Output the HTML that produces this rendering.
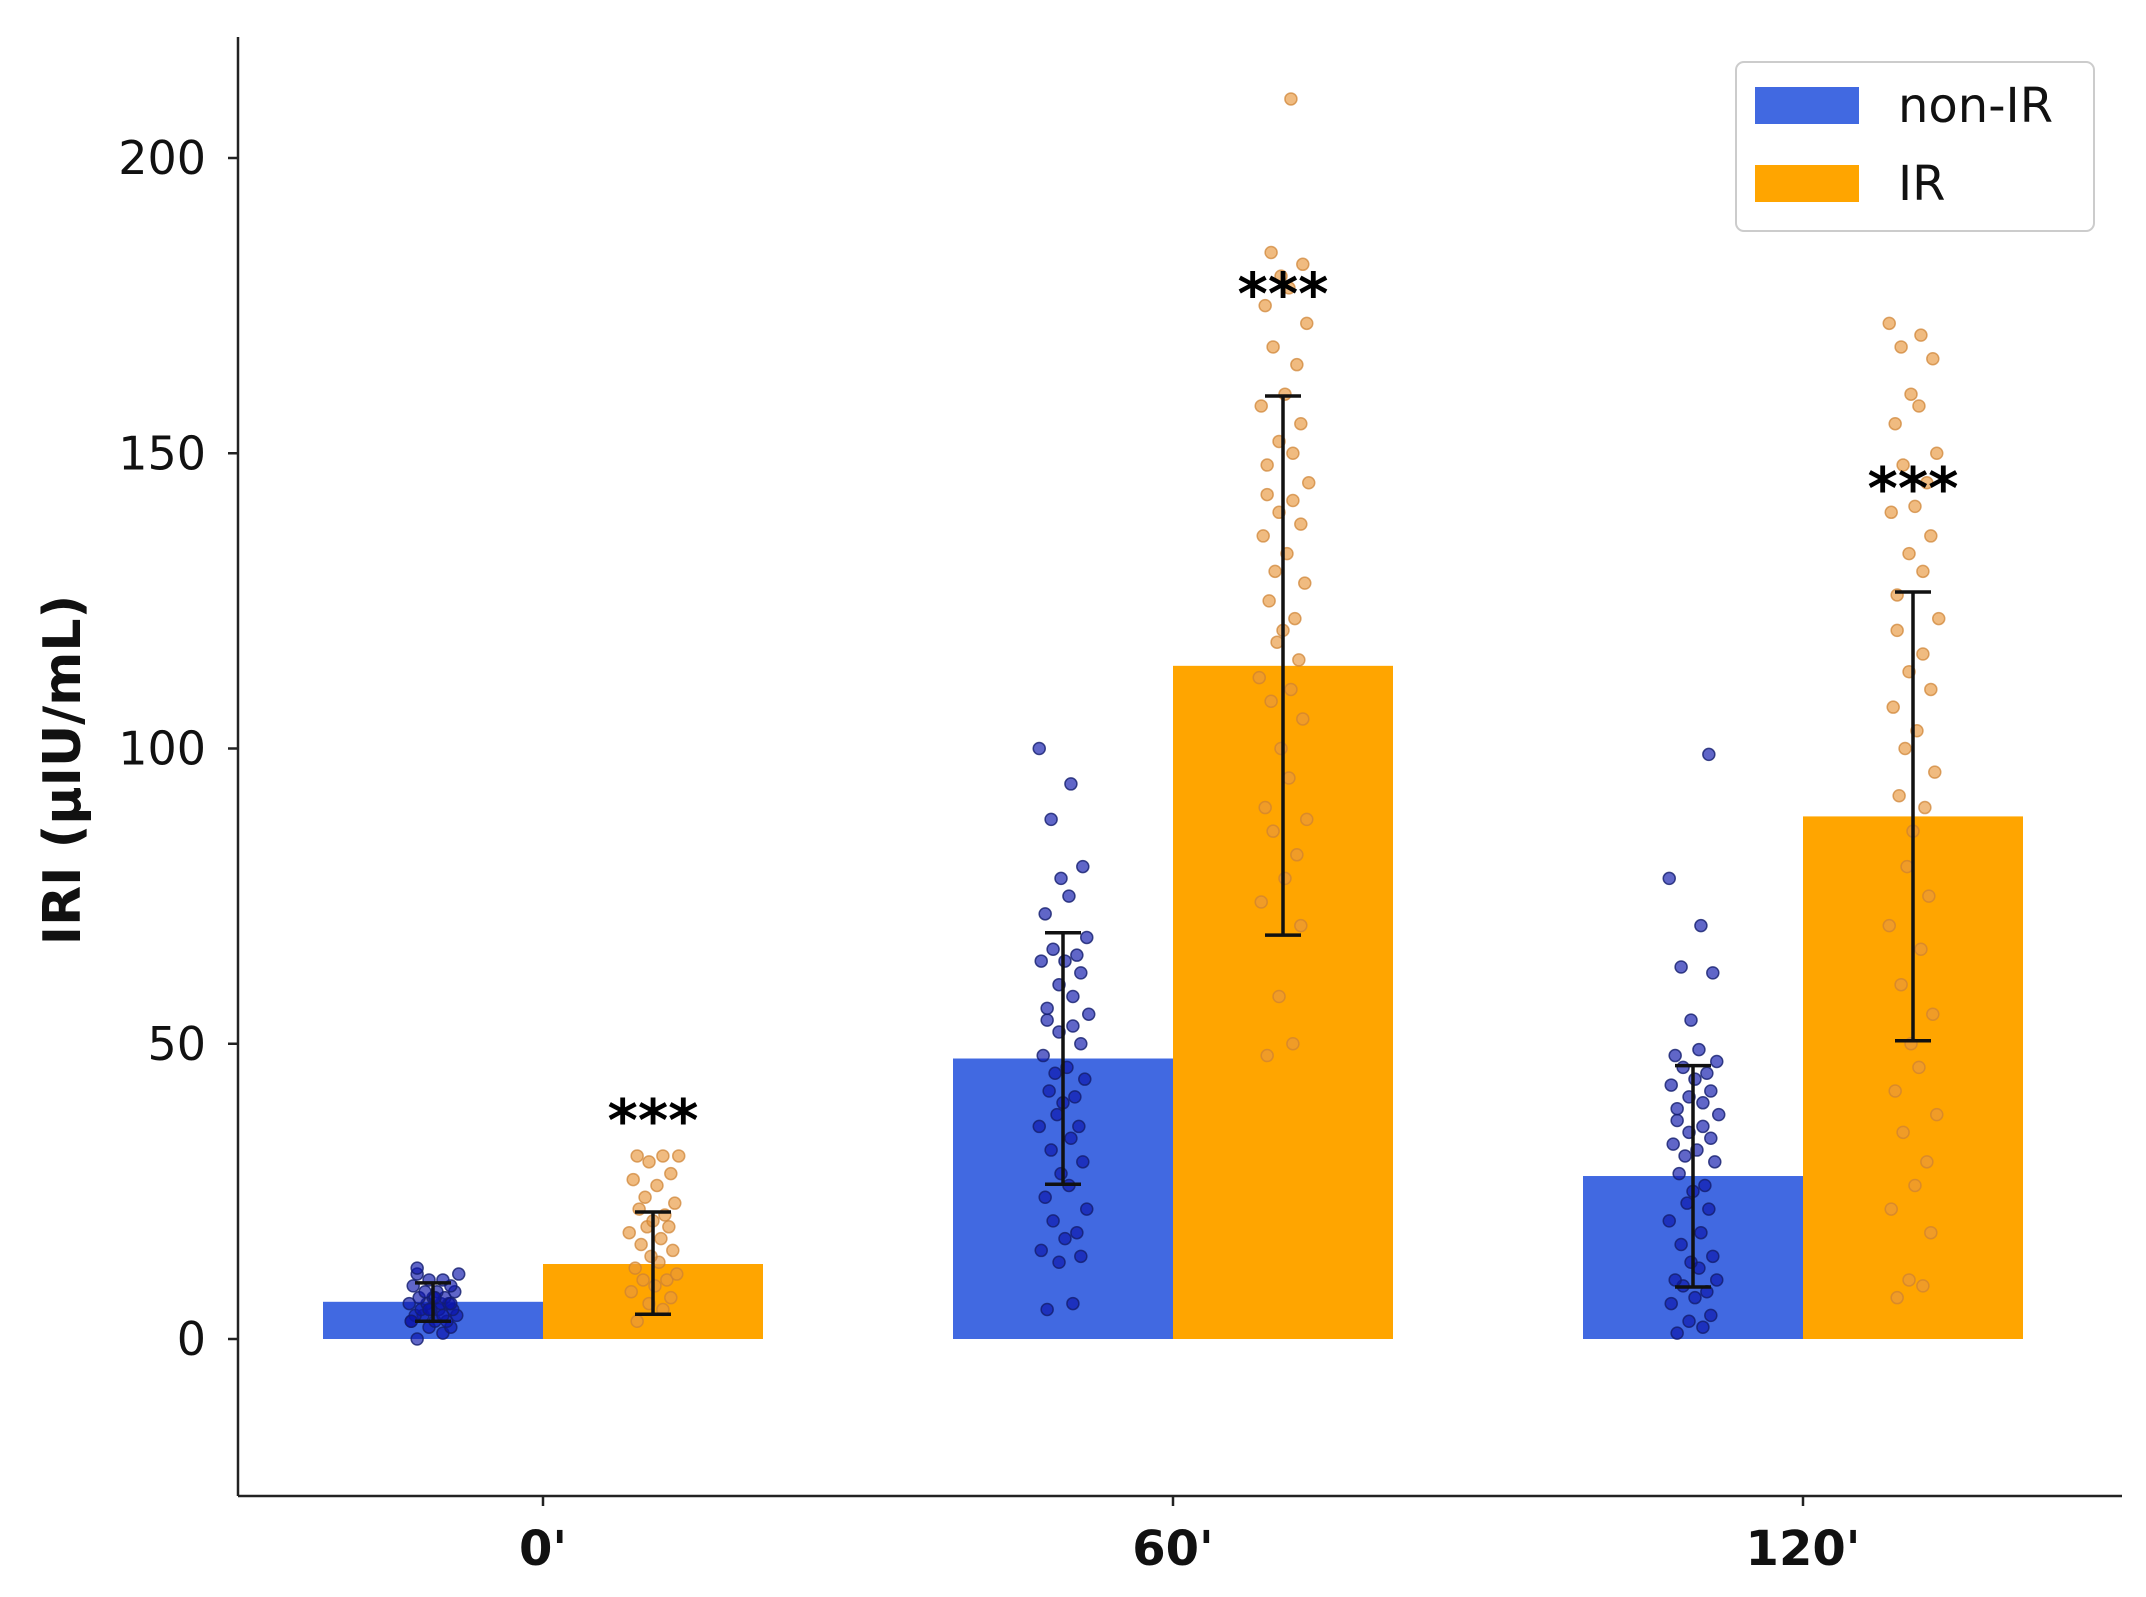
<!DOCTYPE html>
<html><head><meta charset="utf-8">
<style>
html,body{margin:0;padding:0;background:#fff;}
svg{display:block;}
text{font-family:"DejaVu Sans","Liberation Sans",sans-serif;}
</style></head>
<body>
<svg id="chart" width="2146" height="1597" viewBox="0 0 2146 1597" xmlns="http://www.w3.org/2000/svg">
<g id="grid"></g>
</svg>
<script>
const categories = ["0'", "60'", "120'"];
const seriesNames = ["non-IR", "IR"];
const meanNonIR = [6.3, 47.5, 27.6];
const meanIR = [12.7, 114, 88.5];
const errLowNonIR = [3, 26.2, 8.8];
const errHighNonIR = [9.5, 68.8, 46.3];
const errLowIR = [4.2, 68.4, 50.5];
const errHighIR = [21.5, 159.7, 126.5];
const yTicks = [0, 50, 100, 150, 200];
const sigLabels = ["***", "***", "***"];
const sigValues = [37, 177, 144];
const ptsNonIR = [
 [0,1,2,2,3,3,3,4,4,4,5,5,5,5,6,6,6,6,7,7,7,8,8,8,9,9,10,10,11,11,12,4,5,6,3,7],
 [5,6,13,14,15,17,18,20,22,24,26,28,30,32,34,36,36,38,40,41,42,44,45,46,48,50,52,53,54,55,56,58,60,62,64,64,65,66,68,72,75,78,80,88,94,100],
 [1,2,3,4,6,7,8,9,10,10,12,13,14,16,18,20,22,23,25,26,28,30,31,32,33,34,35,36,37,38,39,40,41,42,43,44,45,46,47,48,49,54,62,63,70,78,99]
];
const ptsIR = [
 [3,5,6,7,8,9,10,10,11,12,13,14,15,16,17,18,19,19,20,21,22,23,24,26,27,28,30,31,31,31],
 [48,50,58,70,74,78,82,86,88,90,95,100,105,108,110,112,115,118,120,122,125,128,130,133,136,138,140,142,143,145,148,150,152,155,158,160,165,168,172,175,178,180,182,184,210],
 [7,9,10,18,22,26,30,35,38,42,46,50,55,60,66,70,75,80,86,90,92,96,100,103,107,110,113,116,120,122,126,130,133,136,140,141,145,148,150,155,158,160,166,168,170,172]
];
const jitter = [-0.08,0.05,-0.02,0.09,-0.11,0.01,0.07,-0.05,0.12,-0.09,0.03,-0.01,0.1,-0.06,0.04,-0.12,0.08,-0.03,0.0,0.06,-0.07,0.11,-0.04,0.02,-0.1,0.09,-0.02,0.05,-0.08,0.13];

const NS = "http://www.w3.org/2000/svg";
const svg = document.getElementById('chart');
const X0 = 238, XEND = 2122, YTOP = 37, YBOT = 1496;
const xCenter0 = 543, xStep = 630, barW = 220;
function yScale(v){ return 1339 - v * (1339 - 158) / 200; }
function xScale(i){ return xCenter0 + i * xStep; }
function mk(tag, attrs, parent){
  const e = document.createElementNS(NS, tag);
  for (const k in attrs) e.setAttribute(k, attrs[k]);
  (parent || svg).appendChild(e);
  return e;
}
const colors = ["#4169E1", "#FFA500"];
const ptFill = ["rgba(10,20,170,0.65)", "rgba(232,150,60,0.65)"];
const ptStroke = ["rgba(20,30,110,0.8)", "rgba(205,130,50,0.7)"];

categories.forEach((c, i) => {
  [meanNonIR, meanIR].forEach((arr, s) => {
    const x = s === 0 ? xScale(i) - barW : xScale(i);
    const r = mk('rect', {x: x, y: yScale(arr[i]), width: barW, height: yScale(0) - yScale(arr[i]), fill: colors[s]});
    
    
  });
});
[ptsNonIR, ptsIR].forEach((grp, s) => {
  grp.forEach((vals, i) => {
    const cx0 = s === 0 ? xScale(i) - barW / 2 : xScale(i) + barW / 2;
    vals.forEach((v, k) => {
      const p = mk('circle', {cx: cx0 + jitter[k % jitter.length] * barW * 0.9, cy: yScale(v), r: 6, fill: ptFill[s], stroke: ptStroke[s], 'stroke-width': 1.5});
      
      
    });
  });
});
categories.forEach((c, i) => {
  [[errLowNonIR, errHighNonIR], [errLowIR, errHighIR]].forEach((e, s) => {
    const cx = s === 0 ? xScale(i) - barW / 2 : xScale(i) + barW / 2;
    const g = mk('g', {stroke: '#111', 'stroke-width': 3.5});
    
    
    mk('line', {x1: cx, x2: cx, y1: yScale(e[0][i]), y2: yScale(e[1][i])}, g);
    mk('line', {x1: cx - 18, x2: cx + 18, y1: yScale(e[0][i]), y2: yScale(e[0][i])}, g);
    mk('line', {x1: cx - 18, x2: cx + 18, y1: yScale(e[1][i]), y2: yScale(e[1][i])}, g);
  });
  const t = mk('text', {x: xScale(i) + barW / 2, y: yScale(sigValues[i]) + 20, 'text-anchor': 'middle', 'font-size': 58, 'font-weight': 'bold', fill: '#000'});
  t.textContent = sigLabels[i];
  
  
});
const ax = mk('g', {stroke: '#222', 'stroke-width': 2.5, fill: 'none'});


mk('line', {x1: X0, x2: X0, y1: YTOP, y2: YBOT}, ax);
mk('line', {x1: X0, x2: XEND, y1: YBOT, y2: YBOT}, ax);
yTicks.forEach(v => {
  mk('line', {x1: X0 - 10, x2: X0, y1: yScale(v), y2: yScale(v)}, ax);
  const t = mk('text', {x: 206, y: yScale(v) + 16, 'text-anchor': 'end', 'font-size': 46, fill: '#111'});
  t.textContent = v;
  
  
});
categories.forEach((c, i) => {
  mk('line', {x1: xScale(i), x2: xScale(i), y1: YBOT, y2: YBOT + 10}, ax);
  const t = mk('text', {x: xScale(i), y: 1565, 'text-anchor': 'middle', 'font-size': 48, 'font-weight': 'bold', fill: '#111'});
  t.textContent = c;
  
  
});
const yl = mk('text', {x: 0, y: 0, transform: 'translate(80,770) rotate(-90)', 'text-anchor': 'middle', 'font-size': 52, 'font-weight': 'bold', fill: '#111'});
yl.textContent = 'IRI (µIU/mL)';


const lg = mk('g', {});


mk('rect', {x: 1736, y: 62, width: 358, height: 169, rx: 8, fill: '#fff', stroke: '#ccc', 'stroke-width': 2}, lg);
seriesNames.forEach((n, s) => {
  const e = mk('g', {}, lg);
  
  
  mk('rect', {x: 1755, y: 87 + s * 78, width: 104, height: 37, fill: colors[s]}, e);
  const t = mk('text', {x: 1898, y: 122 + s * 78, 'font-size': 48, fill: '#111'}, e);
  t.textContent = n;
});
</script>
</body></html>
